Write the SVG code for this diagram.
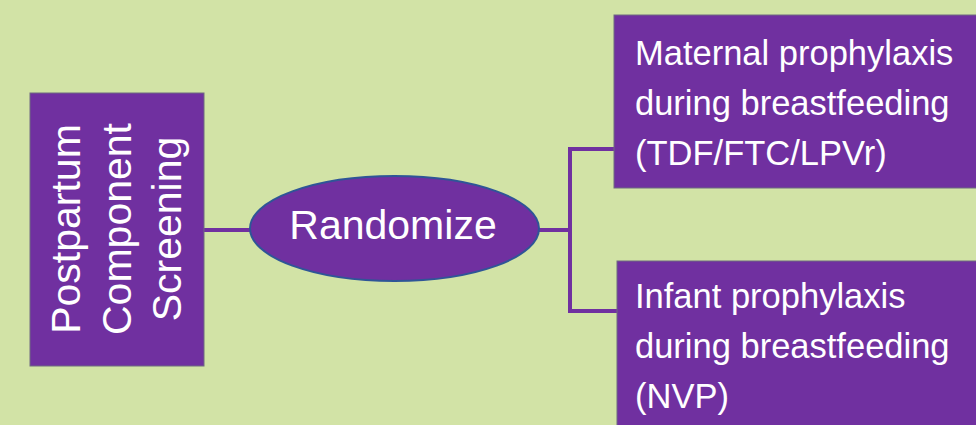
<svg xmlns="http://www.w3.org/2000/svg" width="976" height="425" viewBox="0 0 976 425">
<style>
.box{fill:#7030A0;stroke:#6f6a80;stroke-width:1}
.t{fill:#ffffff;font-family:"Liberation Sans",Arial,sans-serif}
.conn{stroke:#7030A0;stroke-width:4;fill:none}
</style>
<rect x="0" y="0" width="976" height="425" fill="#D2E3A6"/>
<g id="connectors">
<line class="conn" x1="204" y1="230" x2="252" y2="230"/>
<line class="conn" x1="537" y1="230" x2="570" y2="230"/>
<polyline class="conn" points="614,149 570,149 570,311 617,311"/>
</g>
<g id="screening">
<rect class="box" x="30" y="93" width="174" height="273"/>
<g transform="translate(0,229) rotate(-90)">
<text class="t" font-size="41" text-anchor="middle" x="0" y="80">Postpartum</text>
<text class="t" font-size="41" text-anchor="middle" x="0" y="130.5">Component</text>
<text class="t" font-size="41" text-anchor="middle" x="0" y="181">Screening</text>
</g>
</g>
<g id="randomize">
<ellipse cx="394.5" cy="228.5" rx="144.5" ry="52.5" fill="#7030A0" stroke="#2F5597" stroke-width="2"/>
<text class="t" font-size="41" text-anchor="middle" x="393" y="239">Randomize</text>
</g>
<g id="maternal">
<rect class="box" x="614" y="15" width="370" height="173"/>
<text class="t" font-size="34.5" x="635" y="65">Maternal prophylaxis</text>
<text class="t" font-size="34.5" x="635" y="115">during breastfeeding</text>
<text class="t" font-size="34.5" x="635" y="165">(TDF/FTC/LPVr)</text>
</g>
<g id="infant">
<rect class="box" x="617" y="261" width="370" height="175"/>
<text class="t" font-size="34.5" x="635" y="308">Infant prophylaxis</text>
<text class="t" font-size="34.5" x="635" y="358">during breastfeeding</text>
<text class="t" font-size="34.5" x="635" y="408">(NVP)</text>
</g>
</svg>
